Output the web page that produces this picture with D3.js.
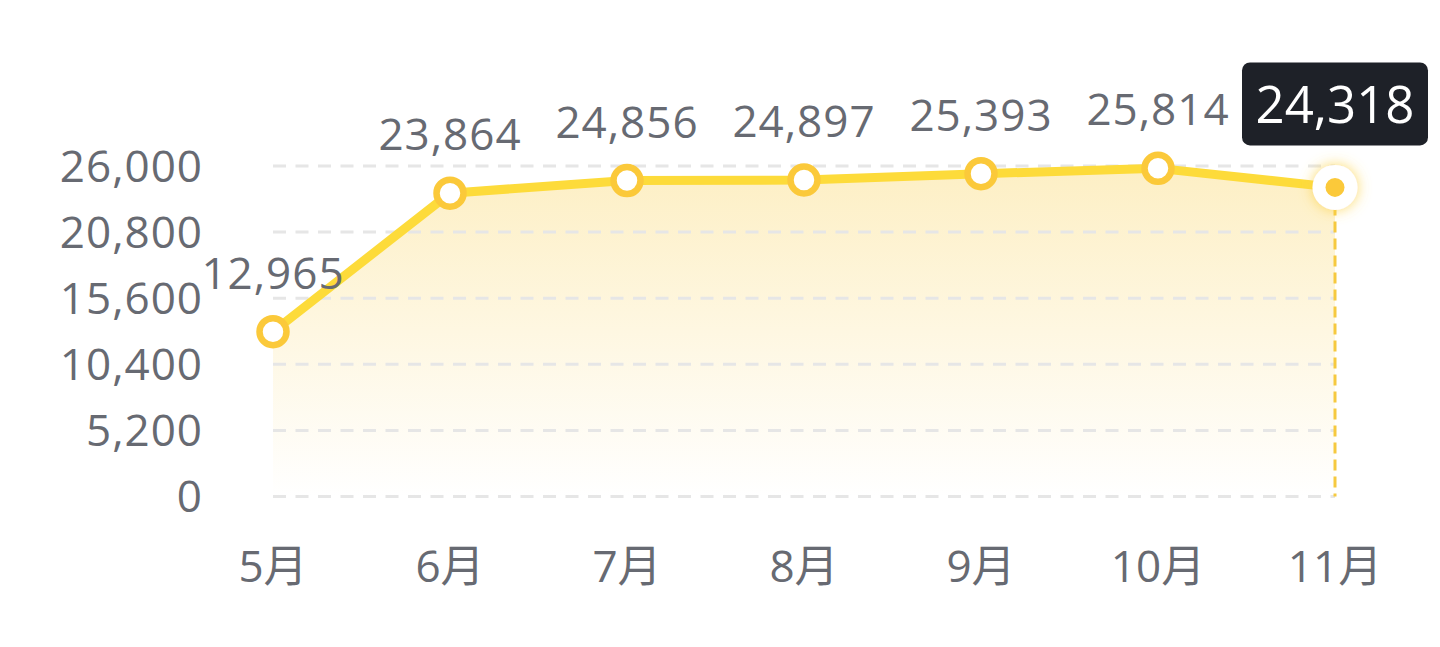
<!DOCTYPE html>
<html>
<head>
<meta charset="utf-8">
<script src="https://cdn.jsdelivr.net/npm/d3@7"></script>
<style>
  html, body { margin: 0; padding: 0; background: #fff; }
  svg { display: block; }
</style>
</head>
<body>
<svg id="chart" width="1440" height="647"></svg>
<script>
const months = ['5月', '6月', '7月', '8月', '9月', '10月', '11月'];
const values = [12965, 23864, 24856, 24897, 25393, 25814, 24318];
const yTicks = [0, 5200, 10400, 15600, 20800, 26000];

const svg = d3.select('#chart');
const fmt = d3.format(',');
const font = '"Open Sans", "Noto Sans CJK SC", sans-serif';
const textColor = '#676a72';

const x = d3.scalePoint().domain(months).range([273, 1335]);
const y = d3.scaleLinear().domain([0, 26000]).range([496.5, 166]);

const defs = svg.append('defs');
const grad = defs.append('linearGradient')
  .attr('id', 'areaFill')
  .attr('gradientUnits', 'userSpaceOnUse')
  .attr('x1', 0).attr('x2', 0)
  .attr('y1', y(26000)).attr('y2', y(0));
grad.append('stop').attr('offset', '0%').attr('stop-color', '#fdefc4');
grad.append('stop').attr('offset', '100%').attr('stop-color', '#ffffff');

const glow = defs.append('filter').attr('id', 'glow')
  .attr('x', '-100%').attr('y', '-100%').attr('width', '300%').attr('height', '300%');
glow.append('feDropShadow')
  .attr('dx', 0).attr('dy', 0).attr('stdDeviation', 7)
  .attr('flood-color', '#fcd34a').attr('flood-opacity', 0.85);

const data = months.map((m, i) => ({ m, v: values[i] }));

// area
const area = d3.area()
  .x(d => x(d.m))
  .y0(y(0))
  .y1(d => y(d.v));
svg.append('path')
  .datum(data)
  .attr('d', area)
  .attr('fill', 'url(#areaFill)');

// grid
svg.append('g')
  .selectAll('line')
  .data(yTicks)
  .join('line')
  .attr('x1', x.range()[0])
  .attr('x2', x.range()[1])
  .attr('y1', d => y(d))
  .attr('y2', d => y(d))
  .attr('stroke', '#e6e6e6')
  .attr('stroke-width', 3)
  .attr('stroke-dasharray', '13 9.5');

// y axis labels
svg.append('g')
  .selectAll('text')
  .data(yTicks)
  .join('text')
  .attr('x', 203)
  .attr('y', d => y(d))
  .attr('dy', '0.36em')
  .attr('text-anchor', 'end')
  .attr('font-family', font)
  .attr('font-size', 44)
  .attr('letter-spacing', 1)
  .attr('fill', textColor)
  .text(d => fmt(d));

// x axis labels
svg.append('g')
  .selectAll('text')
  .data(months)
  .join('text')
  .attr('x', d => x(d))
  .attr('y', 582)
  .attr('text-anchor', 'middle')
  .attr('font-family', font)
  .attr('font-size', 44)
  .attr('fill', textColor)
  .text(d => d);

const last = data[data.length - 1];

// vertical dashed marker
svg.append('line')
  .attr('x1', x(last.m)).attr('x2', x(last.m))
  .attr('y1', y(last.v)).attr('y2', y(0))
  .attr('stroke', '#f6c93f')
  .attr('stroke-width', 3)
  .attr('stroke-dasharray', '11 6');

// line
const line = d3.line()
  .x(d => x(d.m))
  .y(d => y(d.v));
svg.append('path')
  .datum(data)
  .attr('d', line)
  .attr('fill', 'none')
  .attr('stroke', '#fddb3a')
  .attr('stroke-width', 9)
  .attr('stroke-linejoin', 'round');

// points
svg.append('g')
  .selectAll('circle')
  .data(data.slice(0, -1))
  .join('circle')
  .attr('cx', d => x(d.m))
  .attr('cy', d => y(d.v))
  .attr('r', 13.5)
  .attr('fill', '#fff')
  .attr('stroke', '#fbc93a')
  .attr('stroke-width', 6.5);

// highlighted last point
svg.append('circle')
  .attr('cx', x(last.m)).attr('cy', y(last.v))
  .attr('r', 22.5)
  .attr('fill', '#fff')
  .attr('filter', 'url(#glow)');
svg.append('circle')
  .attr('cx', x(last.m)).attr('cy', y(last.v))
  .attr('r', 9.5)
  .attr('fill', '#fbc93a');

// value labels
svg.append('g')
  .selectAll('text')
  .data(data.slice(0, -1))
  .join('text')
  .attr('x', d => x(d.m))
  .attr('y', d => y(d.v) - 43)
  .attr('text-anchor', 'middle')
  .attr('font-family', font)
  .attr('font-size', 44)
  .attr('letter-spacing', 1)
  .attr('fill', textColor)
  .text(d => fmt(d.v));

// tooltip for last point
const tipW = 186, tipH = 83;
const tip = svg.append('g')
  .attr('transform', `translate(${x(last.m) - tipW / 2}, ${y(last.v) - 125})`);
tip.append('rect')
  .attr('width', tipW)
  .attr('height', tipH)
  .attr('rx', 8)
  .attr('fill', '#1e2128');
tip.append('text')
  .attr('x', tipW / 2)
  .attr('y', 61)
  .attr('text-anchor', 'middle')
  .attr('font-family', font)
  .attr('font-size', 51)
  .attr('fill', '#fff')
  .text(fmt(last.v));
</script>
</body>
</html>
